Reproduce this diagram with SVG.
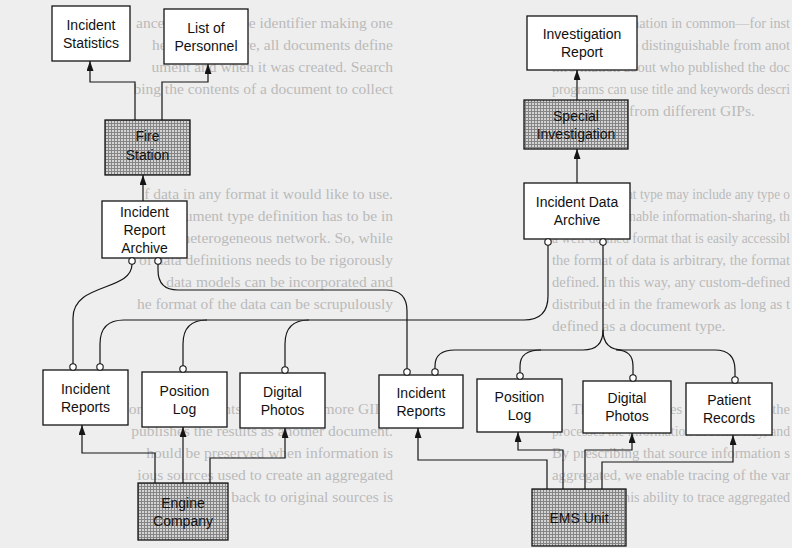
<svg xmlns="http://www.w3.org/2000/svg" width="792" height="548" viewBox="0 0 792 548">
  <defs>
    <!-- halftone screen used for the organisation nodes -->
    <pattern id="screen" width="3" height="3" patternUnits="userSpaceOnUse">
      <rect width="3" height="3" fill="#d4d4d4"/>
      <path d="M0,0.5H3M0.5,0V3" stroke="#858585" stroke-width="1"/>
    </pattern>
    <marker id="arrow" viewBox="0 0 10 7" refX="10" refY="3.5" markerWidth="10" markerHeight="7" markerUnits="userSpaceOnUse" orient="auto">
      <path d="M0,0 L10,3.5 L0,7 z" fill="#151515"/>
    </marker>
    <style>
      .sheet text { font-family: "Liberation Serif", "Times New Roman", serif; font-size: 15.5px; fill: #bababa; }
      .sheet .tail { text-anchor: end; }
      .box { fill: #ffffff; stroke: #151515; stroke-width: 1.3; }
      .org { fill: url(#screen); stroke: #151515; stroke-width: 1.3; }
      .label { font-family: "Liberation Sans", Arial, sans-serif; font-size: 14px; fill: #111111; text-anchor: middle; }
      .wire { fill: none; stroke: #151515; stroke-width: 1.2; }
      .arr { fill: none; stroke: #151515; stroke-width: 1.2; marker-end: url(#arrow); }
      .port { fill: #ffffff; stroke: #151515; stroke-width: 1.1; }
    </style>
  </defs>

  <!-- paper -->
  <rect width="792" height="548" fill="#eeeeee"/>

  <!-- page text printed behind the figure: each line starts on the right and its remainder shows on the left -->
  <g id="sheet" class="sheet">
    <text x="552" y="28" textLength="238" lengthAdjust="spacingAndGlyphs">types of information in common—for inst</text>
    <text class="tail" x="393" y="28">ance, a unique type identifier making one</text>
    <text x="552" y="50" textLength="238" lengthAdjust="spacingAndGlyphs">document type distinguishable from anot</text>
    <text class="tail" x="393" y="50">her. Furthermore, all documents define</text>
    <text x="552" y="72" textLength="238" lengthAdjust="spacingAndGlyphs">information about who published the doc</text>
    <text class="tail" x="393" y="72">ument and when it was created. Search</text>
    <text x="552" y="94" textLength="238" lengthAdjust="spacingAndGlyphs">programs can use title and keywords descri</text>
    <text class="tail" x="393" y="94">bing the contents of a document to collect</text>
    <text x="552" y="116">information from different GIPs.</text>

    <text x="572" y="199" textLength="218" lengthAdjust="spacingAndGlyphs">A document type may include any type o</text>
    <text class="tail" x="393" y="199">f data in any format it would like to use.</text>
    <text x="552" y="221" textLength="238" lengthAdjust="spacingAndGlyphs">However, to enable information-sharing, th</text>
    <text class="tail" x="393" y="221">e document type definition has to be in</text>
    <text x="552" y="243" textLength="238" lengthAdjust="spacingAndGlyphs">a well-defined format that is easily accessibl</text>
    <text class="tail" x="393" y="243">e across a heterogeneous network. So, while</text>
    <text x="552" y="265" textLength="238" lengthAdjust="spacingAndGlyphs">the format of data is arbitrary, the format</text>
    <text class="tail" x="393" y="265">of data definitions needs to be rigorously</text>
    <text x="552" y="287" textLength="238" lengthAdjust="spacingAndGlyphs">defined. In this way, any custom-defined</text>
    <text class="tail" x="393" y="287">data models can be incorporated and</text>
    <text x="552" y="309" textLength="238" lengthAdjust="spacingAndGlyphs">distributed in the framework as long as t</text>
    <text class="tail" x="393" y="309">he format of the data can be scrupulously</text>
    <text x="552" y="331">defined as a document type.</text>

    <text x="572" y="414" textLength="218" lengthAdjust="spacingAndGlyphs">The CIEP retrieves information in the</text>
    <text class="tail" x="393" y="414">form of documents from one or more GIPs,</text>
    <text x="552" y="436" textLength="238" lengthAdjust="spacingAndGlyphs">processes the information in some way, and</text>
    <text class="tail" x="393" y="436">publishes the results as another document.</text>
    <text x="552" y="458" textLength="238" lengthAdjust="spacingAndGlyphs">By prescribing that source information s</text>
    <text class="tail" x="393" y="458">hould be preserved when information is</text>
    <text x="552" y="480" textLength="238" lengthAdjust="spacingAndGlyphs">aggregated, we enable tracing of the var</text>
    <text class="tail" x="393" y="480">ious sources used to create an aggregated</text>
    <text x="552" y="502" textLength="238" lengthAdjust="spacingAndGlyphs">document. This ability to trace aggregated</text>
    <text class="tail" x="393" y="502">information back to original sources is</text>
  </g>

  <!-- connectors -->
  <g id="connectors">
    <!-- fire station outputs -->
    <path class="arr" d="M135,120 V82 H90 V61"/>
    <path class="arr" d="M162,120 V82 H208 V64"/>
    <path class="arr" d="M143,201 V175"/>
    <!-- investigation chain -->
    <path class="arr" d="M577,183 V149"/>
    <path class="arr" d="M577,100 V70"/>
    <!-- engine company outputs -->
    <path class="arr" d="M155,483 V453 H82 V425"/>
    <path class="arr" d="M183,483 V427"/>
    <path class="arr" d="M210,483 V458 H285 V428"/>
    <!-- EMS unit outputs -->
    <path class="arr" d="M547,489 V460 H418 V428"/>
    <path class="arr" d="M563,489 V450 H518 V432"/>
    <path class="arr" d="M585,489 V450 H632 V433"/>
    <path class="arr" d="M602,489 V462 H733 V435"/>
    <!-- archive subscriptions -->
    <path class="wire" d="M132,264 C132,292 73,282 73,318 L73,364"/>
    <path class="wire" d="M158,264 L158,270 Q158,290 178,290 L386,290 Q407,290 407,311 L407,369"/>
    <path class="wire" d="M548,245 L548,296 Q548,320 524,320 L124,320 Q100,320 100,344 L100,364"/>
    <path class="wire" d="M207,320 Q183,320 183,344 L183,366"/>
    <path class="wire" d="M309,320 Q285,320 285,344 L285,367"/>
    <path class="wire" d="M603,245 L603,330 Q603,350 583,350 L455,350 Q435,350 435,366 L435,369"/>
    <path class="wire" d="M541,350 Q520,350 520,366 L520,373"/>
    <path class="wire" d="M603,330 Q603,350 623,350 L715,350 Q735,350 735,370 L735,377"/>
    <path class="wire" d="M616,350 Q633,350 633,366 L633,375"/>
  </g>

  <!-- nodes -->
  <g id="incident-statistics">
    <rect class="box" x="52" y="6" width="78" height="55"/>
    <text class="label" x="91" y="29.5">Incident</text>
    <text class="label" x="91" y="47.5">Statistics</text>
  </g>
  <g id="list-of-personnel">
    <rect class="box" x="164" y="9" width="84" height="55"/>
    <text class="label" x="206" y="32.5">List of</text>
    <text class="label" x="206" y="50.5">Personnel</text>
  </g>
  <g id="fire-station">
    <rect class="org" x="105" y="120" width="85" height="55"/>
    <text class="label" x="147.5" y="141">Fire</text>
    <text class="label" x="147.5" y="160">Station</text>
  </g>
  <g id="incident-report-archive">
    <rect class="box" x="102" y="201" width="85" height="57"/>
    <text class="label" x="144.5" y="216.5">Incident</text>
    <text class="label" x="144.5" y="234.5">Report</text>
    <text class="label" x="144.5" y="252.5">Archive</text>
    <circle class="port" cx="132" cy="261" r="3.2"/>
    <circle class="port" cx="158" cy="261" r="3.2"/>
  </g>
  <g id="investigation-report">
    <rect class="box" x="527" y="16" width="110" height="54"/>
    <text class="label" x="582" y="39">Investigation</text>
    <text class="label" x="582" y="57">Report</text>
  </g>
  <g id="special-investigation">
    <rect class="org" x="524" y="100" width="104" height="49"/>
    <text class="label" x="576" y="120.5">Special</text>
    <text class="label" x="576" y="138.5">Investigation</text>
  </g>
  <g id="incident-data-archive">
    <rect class="box" x="524" y="183" width="106" height="56"/>
    <text class="label" x="577" y="207">Incident Data</text>
    <text class="label" x="577" y="225">Archive</text>
    <circle class="port" cx="548" cy="242" r="3.2"/>
    <circle class="port" cx="603" cy="242" r="3.2"/>
  </g>

  <g id="engine-incident-reports">
    <rect class="box" x="43" y="370" width="85" height="55"/>
    <text class="label" x="85.5" y="393.5">Incident</text>
    <text class="label" x="85.5" y="411.5">Reports</text>
    <circle class="port" cx="73" cy="367" r="3.2"/>
    <circle class="port" cx="100" cy="367" r="3.2"/>
  </g>
  <g id="engine-position-log">
    <rect class="box" x="142" y="372" width="85" height="55"/>
    <text class="label" x="184.5" y="395.5">Position</text>
    <text class="label" x="184.5" y="413.5">Log</text>
    <circle class="port" cx="183" cy="369" r="3.2"/>
  </g>
  <g id="engine-digital-photos">
    <rect class="box" x="240" y="373" width="85" height="55"/>
    <text class="label" x="282.5" y="396.5">Digital</text>
    <text class="label" x="282.5" y="414.5">Photos</text>
    <circle class="port" cx="285" cy="370" r="3.2"/>
  </g>
  <g id="engine-company">
    <rect class="org" x="138" y="483" width="90" height="57"/>
    <text class="label" x="183" y="507.5">Engine</text>
    <text class="label" x="183" y="525.5">Company</text>
  </g>

  <g id="ems-incident-reports">
    <rect class="box" x="379" y="375" width="84" height="53"/>
    <text class="label" x="421" y="397.5">Incident</text>
    <text class="label" x="421" y="415.5">Reports</text>
    <circle class="port" cx="407" cy="372" r="3.2"/>
    <circle class="port" cx="435" cy="372" r="3.2"/>
  </g>
  <g id="ems-position-log">
    <rect class="box" x="477" y="379" width="85" height="53"/>
    <text class="label" x="519.5" y="401.5">Position</text>
    <text class="label" x="519.5" y="419.5">Log</text>
    <circle class="port" cx="520" cy="376" r="3.2"/>
  </g>
  <g id="ems-digital-photos">
    <rect class="box" x="583" y="381" width="88" height="52"/>
    <text class="label" x="627" y="403">Digital</text>
    <text class="label" x="627" y="421">Photos</text>
    <circle class="port" cx="633" cy="378" r="3.2"/>
  </g>
  <g id="ems-patient-records">
    <rect class="box" x="686" y="383" width="86" height="52"/>
    <text class="label" x="729" y="405">Patient</text>
    <text class="label" x="729" y="423">Records</text>
    <circle class="port" cx="735" cy="380" r="3.2"/>
  </g>
  <g id="ems-unit">
    <rect class="org" x="532" y="489" width="94" height="57"/>
    <text class="label" x="579" y="522.5">EMS Unit</text>
  </g>
</svg>
